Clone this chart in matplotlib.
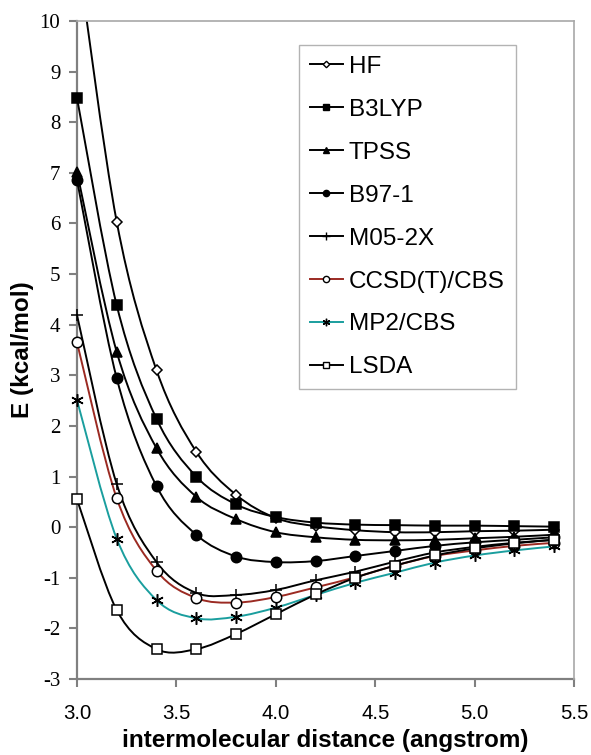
import numpy as np
import matplotlib.pyplot as plt
from matplotlib.path import Path
from matplotlib.patches import PathPatch
from matplotlib.lines import Line2D

# intermolecular distance (angstrom)
dist = [3.0, 3.2, 3.4, 3.6, 3.8, 4.0, 4.2, 4.4, 4.6, 4.8, 5.0, 5.2, 5.4]

# interaction energies (kcal/mol)
hf = [11.4, 6.03, 3.10, 1.49, 0.64, 0.18, 0.02, -0.06, -0.10, -0.10, -0.08, -0.07, -0.05]
b3lyp = [8.48, 4.38, 2.14, 1.00, 0.45, 0.20, 0.09, 0.05, 0.04, 0.03, 0.03, 0.02, 0.01]
tpss = [7.02, 3.46, 1.56, 0.60, 0.16, -0.10, -0.20, -0.25, -0.26, -0.25, -0.22, -0.19, -0.15]
b97 = [6.86, 2.94, 0.81, -0.15, -0.58, -0.69, -0.67, -0.57, -0.47, -0.37, -0.30, -0.25, -0.20]
m05 = [4.19, 0.85, -0.69, -1.30, -1.34, -1.24, -1.05, -0.88, -0.68, -0.50, -0.39, -0.31, -0.25]
ccsd = [3.65, 0.57, -0.86, -1.40, -1.49, -1.38, -1.19, -0.99, -0.76, -0.57, -0.46, -0.37, -0.31]
mp2 = [2.51, -0.23, -1.44, -1.80, -1.77, -1.59, -1.34, -1.10, -0.90, -0.70, -0.56, -0.46, -0.38]
lsda = [0.55, -1.64, -2.41, -2.41, -2.11, -1.72, -1.33, -1.00, -0.76, -0.56, -0.42, -0.32, -0.25]

labels = ["HF", "B3LYP", "TPSS", "B97-1", "M05-2X", "CCSD(T)/CBS", "MP2/CBS", "LSDA"]
series = [hf, b3lyp, tpss, b97, m05, ccsd, mp2, lsda]

YMIN, YMAX = -3, 10

# marker, marker face, size, line colour
STAR = (6, 2, 0)
styles = [
    ("D", "white", 5.5, "black"),
    ("s", "black", 7, "black"),
    ("^", "black", 7.5, "black"),
    ("o", "black", 7.5, "black"),
    ("+", "black", 9, "black"),
    ("o", "white", 7.5, "#9b2a22"),
    (STAR, "black", 9, "#1a9e9e"),
    ("s", "white", 7, "black"),
]


def smooth_path(x, y):
    # Excel-like smoothed line: Catmull-Rom segments as cubic Beziers
    pts = np.column_stack([x, y])
    ext = np.vstack([pts[0], pts, pts[-1]])
    verts = [pts[0]]
    codes = [Path.MOVETO]
    for i in range(1, len(ext) - 2):
        p0, p1, p2, p3 = ext[i - 1], ext[i], ext[i + 1], ext[i + 2]
        verts += [p1 + (p2 - p0) / 6.0, p2 - (p3 - p1) / 6.0, p2]
        codes += [Path.CURVE4] * 3
    return Path(verts, codes)


plt.rcParams['font.family'] = ['Liberation Sans', 'DejaVu Sans']

fig = plt.figure(figsize=(5.91, 7.55), dpi=100)
ax = fig.add_axes([77 / 591, 1 - 679 / 755, 497 / 591, 658 / 755])

handles = []
for lab, yv, (mk, fc, ms, lc) in zip(labels, series, styles):
    ax.add_patch(PathPatch(smooth_path(dist, yv), fill=False, edgecolor=lc, lw=1.4, zorder=2))
    # markers outside the y range are not shown
    ym = np.ma.masked_outside(np.array(yv, dtype=float), YMIN, YMAX)
    ax.plot(dist, ym, linestyle="none", marker=mk, markerfacecolor=fc,
            markeredgecolor="black", markersize=ms, markeredgewidth=1.1,
            zorder=3, clip_on=False)
    handles.append(Line2D([0], [0], color=lc, lw=1.4, marker=mk, markerfacecolor=fc,
                          markeredgecolor="black", markersize=ms * 0.6, markeredgewidth=1.0))

ax.set_xlim(3.0, 5.5)
ax.set_ylim(YMIN, YMAX)
ax.set_xticks(np.arange(3.0, 5.51, 0.5))
ax.set_xticklabels(["%.1f" % v for v in np.arange(3.0, 5.51, 0.5)], fontsize=14.7)
ax.set_yticks(range(YMIN, YMAX + 1))
ax.set_yticklabels([str(v) for v in range(YMIN, YMAX + 1)], fontsize=15, family="Liberation Serif")
ax.tick_params(axis="both", direction="out", length=6, width=1.5, color="#808080")
ax.tick_params(axis="x", pad=12)
ax.tick_params(axis="y", pad=6)

for side in ["left", "bottom"]:
    ax.spines[side].set_color("#808080")
    ax.spines[side].set_linewidth(1.6)
    ax.spines[side].set_zorder(1)
for side in ["top", "right"]:
    ax.spines[side].set_color("#a8a8a8")
    ax.spines[side].set_linewidth(1.2)

ax.set_xlabel("intermolecular distance (angstrom)", fontsize=17.5, fontweight="bold", labelpad=4)
ax.set_ylabel("E (kcal/mol)", fontsize=17.5, fontweight="bold", labelpad=4)

leg = fig.legend(handles=handles, labels=labels, loc="upper left",
                 bbox_to_anchor=(299 / 591, 1 - 45 / 755), borderaxespad=0,
                 fontsize=17.5, frameon=True, fancybox=False, handlelength=1.35,
                 handletextpad=0.25, borderpad=0.45, labelspacing=0.86)
leg.get_frame().set_edgecolor("#a0a0a0")
leg.get_frame().set_linewidth(1.0)

fig.savefig("out.png", dpi=100)
